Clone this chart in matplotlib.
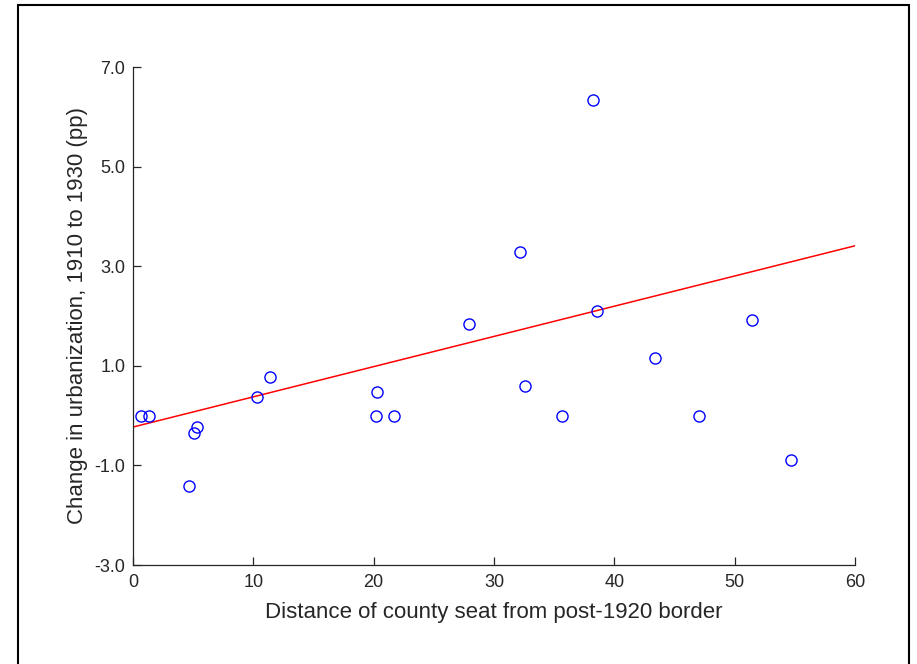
import numpy as np
import matplotlib
matplotlib.use('Agg')
import matplotlib.pyplot as plt
from matplotlib.patches import Rectangle

plt.rcParams['font.family'] = ['Liberation Sans', 'DejaVu Sans']

# distance of county seat from border (km) and change in urbanization (pp)
distance = [0.66, 1.33, 4.65, 5.07, 5.32, 10.3, 11.39, 20.19, 20.28, 21.69,
            27.92, 32.16, 32.58, 35.65, 38.23, 38.56, 43.38, 47.04, 51.44, 54.68]
urban_change = [0.0, 0.0, -1.41, -0.35, -0.23, 0.37, 0.77, 0.0, 0.47, 0.0,
                1.84, 3.28, 0.59, 0.0, 6.34, 2.10, 1.16, 0.0, 1.92, -0.89]

# fitted line
fit_x = [0, 60]
fit_y = [-0.23, 3.41]

xticks = [0, 10, 20, 30, 40, 50, 60]
yticks = [-3.0, -1.0, 1.0, 3.0, 5.0, 7.0]

dark = '#262626'

fig = plt.figure(figsize=(9.17, 6.64), dpi=100)
ax = fig.add_axes([133 / 917, 1 - 565 / 664, 722 / 917, 498 / 664])

ax.plot(distance, urban_change, 'o', mfc='none', mec='blue', ms=8, mew=1.0, zorder=3)
ax.plot(fit_x, fit_y, '-', color='red', lw=1.1)

ax.set_xlim(0, 60)
ax.set_ylim(-3, 7)
ax.set_xticks(xticks)
ax.set_yticks(yticks)
ax.set_yticklabels(['%.1f' % v for v in yticks])

for s in ['top', 'right']:
    ax.spines[s].set_visible(False)
for s in ['left', 'bottom']:
    ax.spines[s].set_color(dark)
    ax.spines[s].set_linewidth(0.9)
ax.tick_params(direction='in', length=6, width=0.9, colors=dark, labelsize=13)
ax.tick_params(axis='x', pad=6.5)
ax.tick_params(axis='y', pad=5.5)

ax.set_xlabel('Distance of county seat from post-1920 border', fontsize=16, color=dark, labelpad=8)
ax.set_ylabel('Change in urbanization, 1910 to 1930 (pp)', fontsize=16, color=dark, labelpad=5)

# frame around the whole figure
fig.patches.append(Rectangle((18 / 917, -0.05), (909 - 18) / 917, (664 - 5) / 664 + 0.05,
                             transform=fig.transFigure, fill=False, ec='black', lw=1.5))

fig.savefig('out.png', dpi=100)
